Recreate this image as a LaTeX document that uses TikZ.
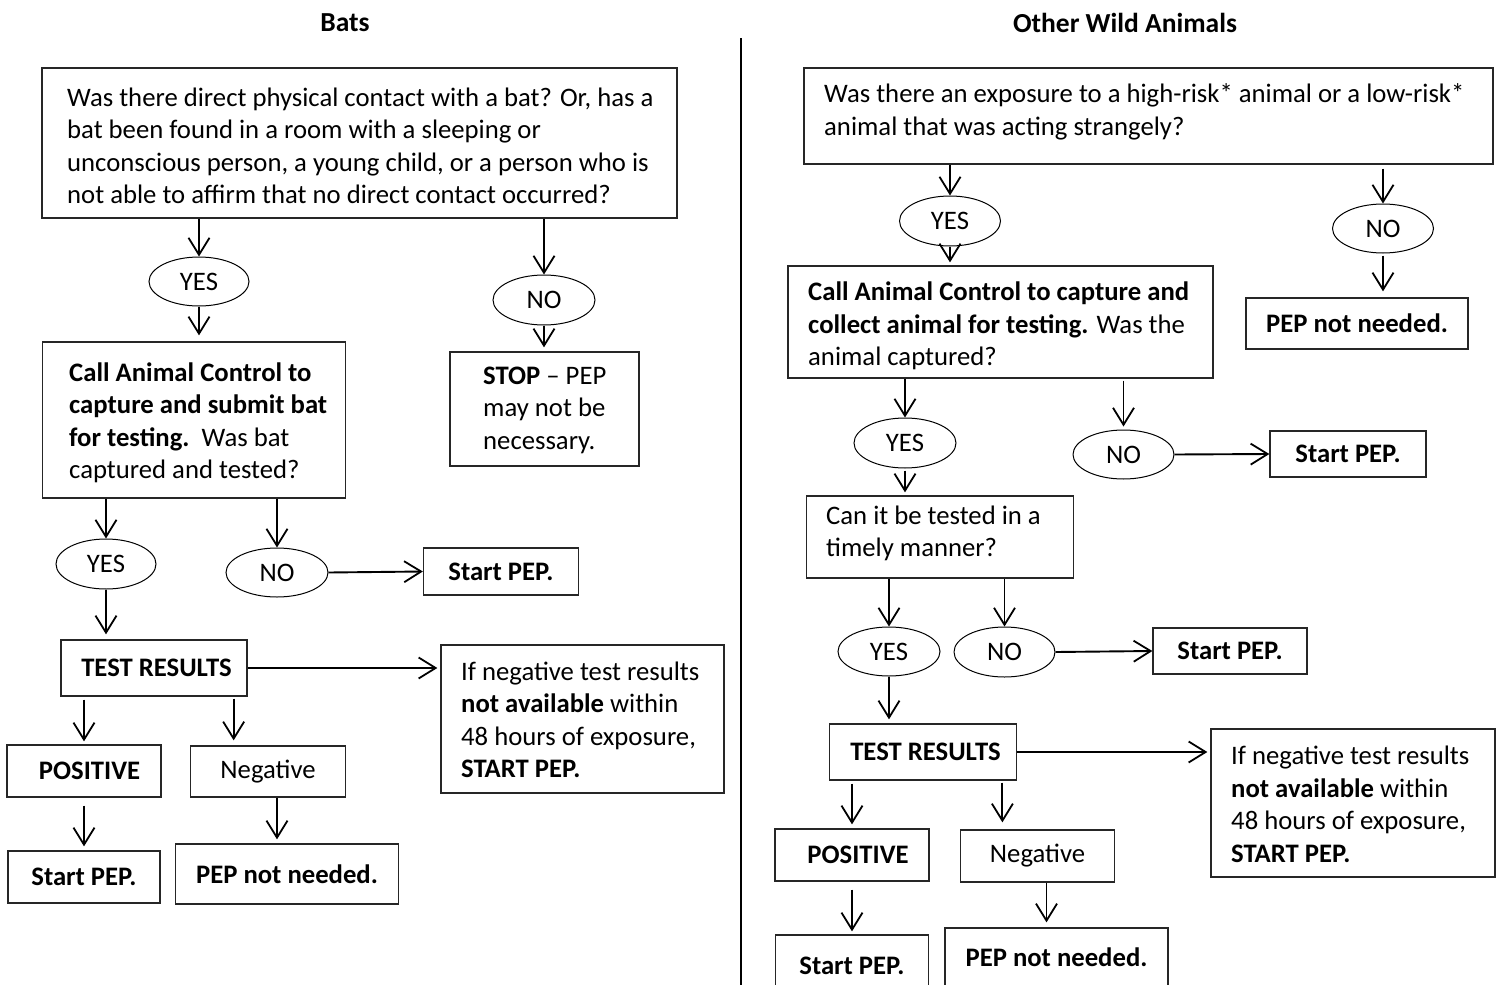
\documentclass[tikz,border=0pt]{standalone}
\usepackage{fontspec}
\setmainfont{Carlito}
\usetikzlibrary{arrows.meta,shapes.geometric}
\begin{document}
\begin{tikzpicture}[x=1pt,y=-1pt,
  font=\fontsize{26.7}{32.5}\selectfont,
  box/.style={draw=black!85,line width=1.3pt,inner sep=0pt,rectangle},
  oval/.style={ellipse,draw=black,line width=1pt,inner sep=0pt},
  txt/.style={inner sep=0pt,align=left,anchor=west},
  bf/.style={font=\fontsize{26.7}{32.5}\selectfont\bfseries},
  arr/.style={-{Straight Barb[length=17pt,width=21pt,line width=1.8pt]},line width=1.9pt},
  ttl/.style={inner sep=0pt,font=\fontsize{27.5}{32.5}\selectfont\bfseries}]
\useasboundingbox (0,0) rectangle (1497,985);
\fill[white] (0,0) rectangle (1497,985);

% titles and divider
\node[ttl] (tbats) at (345,23) {Bats};
\node[ttl] (tother) at (1125,23) {Other Wild Animals};
\draw[line width=2pt] (741,38) -- (741,990);

% ---------------- Bats ----------------
\node[box,minimum width=635pt,minimum height=150pt] (b1) at (359.5,143) {};
\node[txt] (b1t) at (67,146) {Was there direct physical contact with a bat? Or, has a\\bat been found in a room with a sleeping or\\unconscious person, a young child, or a person who is\\not able to affirm that no direct contact occurred?};
\node[oval,minimum width=100pt,minimum height=49pt] (yes1) at (199,281.5) {YES};
\node[oval,minimum width=102pt,minimum height=50pt] (no1) at (544,300) {NO};
\node[box,minimum width=189pt,minimum height=114pt] (stop) at (544.5,409) {};
\node[txt] (stopt) at (483,410) {\textbf{STOP} – PEP\\may not be\\necessary.};
\node[box,minimum width=302.5pt,minimum height=156pt] (b2) at (194,420) {};
\node[txt] (b2t) at (69,423) {\textbf{Call Animal Control to}\\\textbf{capture and submit bat}\\\textbf{for testing.}\ \ Was bat\\captured and tested?};
\node[oval,minimum width=100pt,minimum height=50pt] (yes2) at (106,564) {YES};
\node[oval,minimum width=102pt,minimum height=49pt] (no2) at (277,572.5) {NO};
\node[box,bf,minimum width=155pt,minimum height=47pt] (sp1) at (501,571.5) {Start PEP.};
\node[box,bf,minimum width=186pt,minimum height=56pt] (test1) at (154,668) {\hspace*{5pt}TEST RESULTS};
\node[box,minimum width=283pt,minimum height=148pt] (if1) at (582.5,719) {};
\node[txt] (if1t) at (461,720) {If negative test results\\\textbf{not available} within\\48 hours of exposure,\\\textbf{START PEP.}};
\node[box,bf,minimum width=154pt,minimum height=52pt] (pos1) at (84,771) {\hspace*{11pt}POSITIVE};
\node[box,minimum width=154.5pt,minimum height=51pt] (neg1) at (268,771.5) {Negative};
\node[box,bf,minimum width=152pt,minimum height=52pt] (sp2) at (84,877) {Start PEP.};
\node[box,bf,minimum width=222.6pt,minimum height=60pt] (pnn1) at (287,874) {PEP not needed.};

\draw[arr] (b1.south -| yes1) -- (yes1.north);
\draw[arr,shorten >=6pt] (yes1.south) -- (yes1.south |- b2.north);
\draw[arr] (b1.south -| no1) -- (no1.north);
\draw[arr,shorten >=4pt] (no1.south) -- (no1.south |- stop.north);
\draw[arr] (b2.south -| yes2) -- (yes2.north);
\draw[arr] (b2.south -| no2) -- (no2.north);
\draw[arr] (no2.east) -- (sp1.west);
\draw[arr,shorten >=5pt] (yes2.south) -- (yes2.south |- test1.north);
\draw[arr,shorten >=3pt] (test1.east) -- (test1.east -| if1.west);
\draw[arr,shorten <=3pt,shorten >=3pt] (test1.south -| pos1) -- (pos1.north);
\draw[arr,shorten <=2pt,shorten >=5pt] ([xshift=-14pt]test1.south east) -- ([xshift=-14pt]test1.south east |- neg1.north);
\draw[arr,shorten <=8pt,shorten >=4pt] (pos1.south) -- (pos1.south |- sp2.north);
\draw[arr,shorten >=4pt] ([xshift=9pt]neg1.south) -- ([xshift=9pt]neg1.south |- pnn1.north);

% ---------------- Other Wild Animals ----------------
\node[box,minimum width=689pt,minimum height=96pt] (q2) at (1148.5,116) {};
\node[txt] (q2t) at (824,112) {Was there an exposure to a high-risk* animal or a low-risk*\\animal that was acting strangely?};
\node[oval,minimum width=101pt,minimum height=50pt] (yesR1) at (950,221) {YES};
\node[oval,minimum width=101pt,minimum height=49pt] (noR1) at (1383,228.5) {NO};
\node[box,minimum width=425pt,minimum height=112pt] (callR) at (1000.5,322) {};
\node[txt] (callRt) at (808,326) {\textbf{Call Animal Control to capture and}\\\textbf{collect animal for testing.} Was the\\animal captured?};
\node[box,bf,minimum width=222pt,minimum height=51pt] (pnnR1) at (1357,323.5) {PEP not needed.};
\node[oval,minimum width=102pt,minimum height=50pt] (yesR2) at (905,443) {YES};
\node[oval,minimum width=101pt,minimum height=49pt] (noR2) at (1123.5,454.5) {NO};
\node[box,bf,minimum width=156pt,minimum height=46pt] (spR1) at (1348,454) {Start PEP.};
\node[box,minimum width=266.5pt,minimum height=82pt] (canit) at (940,537) {};
\node[txt] (canitt) at (826,533.5) {Can it be tested in a\\timely manner?};
\node[oval,minimum width=102pt,minimum height=49pt] (yesR3) at (889,651.5) {YES};
\node[oval,minimum width=101pt,minimum height=50pt] (noR3) at (1004.5,652) {NO};
\node[box,bf,minimum width=154pt,minimum height=46pt] (spR2) at (1230,651) {Start PEP.};
\node[box,bf,minimum width=186.5pt,minimum height=56pt] (testR) at (923,752) {\hspace*{5pt}TEST RESULTS};
\node[box,minimum width=284pt,minimum height=148pt] (ifR) at (1353,803) {};
\node[txt] (ifRt) at (1231,804.5) {If negative test results\\\textbf{not available} within\\48 hours of exposure,\\\textbf{START PEP.}};
\node[box,bf,minimum width=154pt,minimum height=52pt] (posR) at (852,855) {\hspace*{12pt}POSITIVE};
\node[box,minimum width=154pt,minimum height=52pt] (negR) at (1037.5,856) {Negative};
\node[box,bf,minimum width=152.5pt,minimum height=70pt,text depth=8pt] (spR3) at (852,970) {Start PEP.};
\node[box,bf,minimum width=223pt,minimum height=80pt,text depth=22pt] (pnnR3) at (1056.5,968) {PEP not needed.};

\draw[arr] (q2.south -| yesR1) -- (yesR1.north);
\draw[arr,shorten >=3pt] (yesR1.south) -- (yesR1.south |- callR.north);
\draw[arr,shorten <=4pt] (q2.south -| noR1) -- (noR1.north);
\draw[arr,shorten <=2pt,shorten >=6pt] (noR1.south) -- (noR1.south |- pnnR1.north);
\draw[arr] (callR.south -| yesR2) -- (yesR2.north);
\draw[arr,shorten <=2pt,shorten >=3pt] (yesR2.south) -- (yesR2.south |- canit.north);
\draw[arr,shorten <=2pt,shorten >=3pt] (callR.south -| noR2) -- (noR2.north);
\draw[arr] (noR2.east) -- (spR1.west);
\draw[arr] (canit.south -| yesR3) -- (yesR3.north);
\draw[arr] (canit.south -| noR3) -- (noR3.north);
\draw[arr] (noR3.east) -- (spR2.west);
\draw[arr,shorten >=4pt] (yesR3.south) -- (yesR3.south |- testR.north);
\draw[arr,shorten >=3pt] (testR.east) -- (testR.east -| ifR.west);
\draw[arr,shorten <=3pt,shorten >=4pt] (testR.south -| posR) -- (posR.north);
\draw[arr,shorten <=2pt,shorten >=7pt] ([xshift=-14.5pt]testR.south east) -- ([xshift=-14.5pt]testR.south east |- negR.north);
\draw[arr,shorten <=8pt,shorten >=3pt] (posR.south) -- (posR.south |- spR3.north);
\draw[arr,shorten >=5pt] ([xshift=9pt]negR.south) -- ([xshift=9pt]negR.south |- pnnR3.north);
\end{tikzpicture}
\end{document}
